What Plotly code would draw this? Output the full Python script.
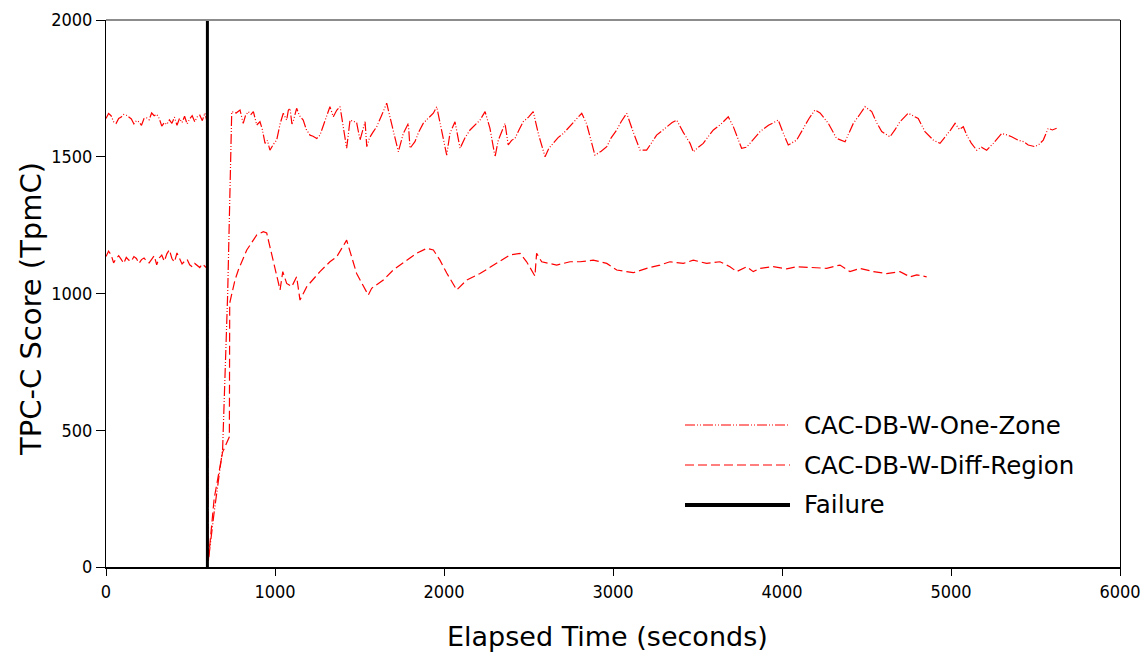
import plotly.graph_objects as go

# ---------------- data ----------------
one_zone_t = [0, 15, 30, 45, 60, 75, 90, 105, 120, 135, 150, 165, 180, 195, 210, 225, 240, 255, 270, 285,
              300, 315, 330, 345, 360, 375, 390, 405, 420, 435, 450, 465, 480, 495, 510, 525, 540, 555, 570, 585, 598,
              605, 640, 690, 720, 744, 770, 793, 812, 825, 842, 858, 872, 892, 911, 925, 941, 955, 970, 990, 1010,
              1030, 1049, 1069, 1079, 1089, 1100, 1108, 1118, 1128, 1145, 1167, 1185, 1207, 1225, 1247, 1266,
              1290, 1310, 1325, 1345, 1365, 1385, 1405, 1424, 1444, 1465, 1483, 1503, 1533, 1543, 1560, 1580,
              1602, 1630, 1661, 1680, 1705, 1730, 1759, 1789, 1799, 1828, 1850, 1877, 1905, 1937, 1957, 1985,
              2016, 2035, 2065, 2095, 2125, 2154, 2185, 2213, 2243, 2272, 2302, 2321, 2361, 2380, 2400, 2420,
              2445, 2469, 2500, 2528, 2560, 2598, 2620, 2647, 2675, 2706, 2735, 2765, 2790, 2815, 2844, 2870,
              2893, 2930, 2963, 2990, 3022, 3050, 3081, 3120, 3160, 3199, 3230, 3258, 3290, 3318, 3350, 3377,
              3415, 3456, 3475, 3505, 3534, 3565, 3594, 3640, 3682, 3712, 3735, 3761, 3791, 3830, 3870, 3920,
              3978, 4005, 4037, 4087, 4126, 4160, 4195, 4225, 4274, 4300, 4323, 4373, 4400, 4422, 4455, 4491,
              4531, 4560, 4590, 4639, 4670, 4698, 4747, 4806, 4846, 4870, 4895, 4935, 4974, 5000, 5024, 5050,
              5073, 5093, 5120, 5152, 5180, 5211, 5250, 5300, 5330, 5359, 5398, 5430, 5457, 5497, 5520, 5546,
              5575, 5600, 5625]
one_zone_v = [1640, 1658, 1650, 1628, 1622, 1640, 1645, 1655, 1652, 1645, 1638, 1620, 1632, 1628, 1615, 1640,
              1642, 1635, 1660, 1650, 1655, 1640, 1612, 1625, 1618, 1635, 1622, 1645, 1615, 1640, 1625, 1648,
              1620, 1638, 1650, 1628, 1646, 1652, 1632, 1660, 1628,
              20, 200, 430, 1000, 1665, 1660, 1671, 1622, 1650, 1665, 1655, 1665, 1616, 1628, 1600, 1549, 1560,
              1524, 1545, 1561, 1620, 1659, 1634, 1670, 1677, 1620, 1630, 1660, 1677, 1650, 1634, 1600, 1579,
              1575, 1567, 1579, 1620, 1660, 1683, 1646, 1670, 1683, 1600, 1531, 1634, 1630, 1625, 1561, 1628,
              1537, 1570, 1590, 1610, 1650, 1696, 1646, 1580, 1518, 1585, 1622, 1531, 1555, 1590, 1622, 1640,
              1659, 1683, 1600, 1506, 1585, 1628, 1531, 1570, 1598, 1615, 1634, 1665, 1604, 1500, 1560, 1622,
              1543, 1560, 1567, 1600, 1628, 1645, 1665, 1580, 1500, 1530, 1549, 1570, 1585, 1605, 1628, 1645,
              1659, 1620, 1560, 1506, 1520, 1537, 1570, 1598, 1630, 1659, 1590, 1524, 1524, 1555, 1579, 1595,
              1610, 1625, 1634, 1590, 1549, 1518, 1535, 1549, 1575, 1598, 1620, 1646, 1610, 1570, 1531, 1535,
              1565, 1592, 1615, 1634, 1590, 1543, 1561, 1604, 1640, 1671, 1660, 1622, 1590, 1567, 1555, 1590,
              1622, 1650, 1683, 1665, 1625, 1592, 1573, 1600, 1628, 1659, 1640, 1592, 1575, 1561, 1549, 1579,
              1600, 1622, 1600, 1610, 1579, 1550, 1524, 1535, 1524, 1549, 1585, 1580, 1573, 1560, 1555, 1543,
              1537, 1545, 1561, 1604, 1598, 1604]

diff_region_t = [0, 15, 30, 45, 60, 75, 90, 105, 120, 135, 150, 165, 180, 195, 210, 225, 240, 255, 270, 285,
                 300, 315, 330, 345, 360, 375, 390, 405, 420, 435, 450, 465, 480, 495, 510, 525, 540, 555, 570, 585, 598,
                 605, 640, 690, 730, 732, 763, 783, 833, 892, 931, 951, 1030, 1046, 1069, 1099, 1128, 1148, 1188,
                 1266, 1325, 1365, 1424, 1483, 1552, 1572, 1641, 1700, 1779, 1838, 1898, 1937, 1976, 2016, 2075,
                 2134, 2213, 2292, 2390, 2450, 2489, 2538, 2548, 2578, 2667, 2746, 2805, 2883, 2963, 3022, 3120,
                 3199, 3278, 3337, 3416, 3475, 3554, 3633, 3692, 3732, 3791, 3830, 3870, 3948, 4028, 4087, 4166,
                 4264, 4343, 4402, 4461, 4540, 4619, 4698, 4757, 4797, 4856]
diff_region_v = [1135, 1155, 1142, 1112, 1128, 1138, 1125, 1110, 1132, 1122, 1118, 1135, 1128, 1110, 1124, 1130,
                 1118, 1112, 1125, 1138, 1105, 1130, 1140, 1118, 1145, 1160, 1128, 1115, 1148, 1130, 1108, 1118,
                 1125, 1105, 1098, 1110, 1102, 1095, 1108, 1098, 1092,
                 20, 250, 420, 476, 965, 1049, 1086, 1159, 1214, 1226, 1221, 1013, 1080, 1037, 1025, 1061, 976,
                 1025, 1080, 1116, 1134, 1195, 1073, 994, 1019, 1049, 1086, 1122, 1147, 1165, 1159, 1122, 1075,
                 1013, 1049, 1073, 1104, 1141, 1147, 1116, 1064, 1147, 1116, 1104, 1116, 1116, 1122, 1110, 1086,
                 1076, 1092, 1104, 1116, 1110, 1122, 1110, 1116, 1098, 1080, 1098, 1080, 1092, 1098, 1090, 1098,
                 1096, 1092, 1104, 1080, 1092, 1080, 1073, 1080, 1061, 1068, 1061]

failure_t = [600, 600]
failure_v = [0, 2000]

x_ticks = [0, 1000, 2000, 3000, 4000, 5000, 6000]
y_ticks = [0, 500, 1000, 1500, 2000]

legend_labels = ["CAC-DB-W-One-Zone", "CAC-DB-W-Diff-Region", "Failure"]
x_title = "Elapsed Time (seconds)"
y_title = "TPC-C Score (TpmC)"

# ---------------- styles ----------------
RED = "#ff0000"
DASH_ONE = "10px,2px,1px,2px,1px,2px"
DASH_DIFF = "9px,4px"
TICK_FONT = dict(family="Liberation Sans Narrow, DejaVu Sans Condensed, DejaVu Sans", size=18, color="black")
XTITLE_FONT = dict(family="DejaVu Sans", size=27, color="black")
YTITLE_FONT = dict(family="DejaVu Sans", size=29, color="black")
LEG_FONT = dict(family="DejaVu Sans", size=24.5, color="black")

fig = go.Figure()
fig.add_trace(go.Scatter(x=one_zone_t, y=one_zone_v, mode="lines", name=legend_labels[0],
                         line=dict(color=RED, width=1.2, dash=DASH_ONE), showlegend=False))
fig.add_trace(go.Scatter(x=diff_region_t, y=diff_region_v, mode="lines", name=legend_labels[1],
                         line=dict(color=RED, width=1.2, dash=DASH_DIFF), showlegend=False))
fig.add_trace(go.Scatter(x=failure_t, y=failure_v, mode="lines", name=legend_labels[2],
                         line=dict(color="black", width=3), showlegend=False))

# pixel helpers for paper-positioned decorations
W, H = 1146, 661
ML, MR, MT, MB = 106, 26, 20, 94
PW, PH = W - ML - MR, H - MT - MB


def px(x):
    return (x - ML) / PW


def py(y):
    return 1 - (y - MT) / PH


# custom legend (long line samples as in the original)
legend_rows = [(425, RED, 1.2, DASH_ONE), (465, RED, 1.2, DASH_DIFF), (505, "black", 4, "solid")]
for (yy, col, wd, ds), lab in zip(legend_rows, legend_labels):
    fig.add_shape(type="line", xref="paper", yref="paper", x0=px(685), x1=px(790), y0=py(yy), y1=py(yy),
                  line=dict(color=col, width=wd, dash=ds))
    fig.add_annotation(xref="paper", yref="paper", x=px(802), y=py(yy), text=lab, showarrow=False,
                       xanchor="left", yanchor="middle", font=LEG_FONT)

# axis titles
fig.add_annotation(xref="paper", yref="paper", x=px(31), y=py(309), text=y_title,
                   textangle=-90, showarrow=False, xanchor="center", yanchor="middle", font=YTITLE_FONT)
fig.add_annotation(xref="paper", yref="paper", x=px(607), y=py(636), text=x_title,
                   showarrow=False, xanchor="center", yanchor="middle", font=XTITLE_FONT)

# grey top frame line
fig.add_shape(type="line", xref="paper", yref="paper", x0=0, x1=1, y0=1, y1=1,
              line=dict(color="#8c8c8c", width=2))

fig.update_layout(
    width=W, height=H,
    margin=dict(l=ML, r=MR, t=MT, b=MB, autoexpand=False),
    paper_bgcolor="white", plot_bgcolor="white",
    showlegend=False,
)
fig.update_xaxes(range=[0, 6000], tickvals=x_ticks, ticktext=[str(v) for v in x_ticks],
                 showgrid=False, zeroline=False, showline=True, linecolor="black", linewidth=2,
                 mirror=False, ticks="outside", ticklen=7, tickcolor="black", tickfont=TICK_FONT,
                 automargin=False)
fig.update_yaxes(range=[0, 2000], tickvals=y_ticks, ticktext=[str(v) for v in y_ticks],
                 showgrid=False, zeroline=False, showline=True, linecolor="black", linewidth=1,
                 mirror=True, ticks="outside", ticklen=9, tickcolor="black", tickfont=TICK_FONT,
                 automargin=False)

fig.write_html("out.html")
